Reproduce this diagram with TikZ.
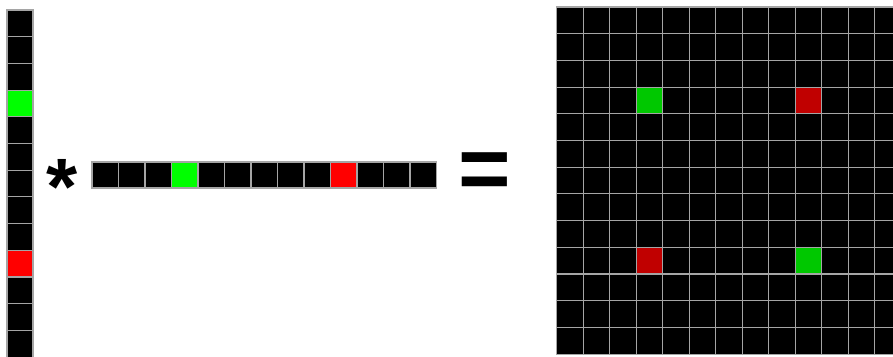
\documentclass[tikz,border=0pt]{standalone}
\usepackage{fontspec}
\setmainfont{Liberation Sans}
\usetikzlibrary{math}
\definecolor{lgreen}{RGB}{0,255,0}
\definecolor{lred}{RGB}{255,0,0}
\definecolor{dgreen}{RGB}{0,200,0}
\definecolor{dred}{RGB}{192,0,0}
\definecolor{cellline}{RGB}{165,165,165}

\begin{document}
\begin{tikzpicture}[x=1pt,y=-1pt]
\tikzmath{
\w=26.5;
\h=26.7;
}
\tikzset{cell/.style={fill=black,draw=cellline,line width=1.1pt}}

\useasboundingbox (0,0) rectangle (893,356);

% column vector
\foreach \i in {0,...,12}
  \draw[cell] (7,{10+\i*\h}) rectangle +(26,\h);
\draw[cell,fill=lgreen] (7,{10+3*\h}) rectangle +(26,\h);
\draw[cell,fill=lred] (7,{10+9*\h}) rectangle +(26,\h);

\node[anchor=base,inner sep=0pt] (times) at (62,214) {\fontsize{80}{80}\selectfont\bfseries *};

% row vector
\foreach \j in {0,...,12}
  \draw[cell] ({92+\j*\w},162) rectangle +(\w,26);
\draw[cell,fill=lgreen] ({92+3*\w},162) rectangle +(\w,26);
\draw[cell,fill=lred] ({92+9*\w},162) rectangle +(\w,26);

\node[anchor=base,inner sep=0pt] (equals) at (485,199) {\fontsize{90}{90}\selectfont\bfseries =};

% outer product
\begin{scope}
\clip (0,0) rectangle (893,356);
\foreach \i in {0,...,12}
  \foreach \j in {0,...,12}
    \draw[cell] ({556.7+\j*\w},{7+\i*\h}) rectangle +(\w,\h);
\draw[cell,fill=dgreen] ({556.7+3*\w},{7+3*\h}) rectangle +(\w,\h);
\draw[cell,fill=dred] ({556.7+9*\w},{7+3*\h}) rectangle +(\w,\h);
\draw[cell,fill=dred] ({556.7+3*\w},{7+9*\h}) rectangle +(\w,\h);
\draw[cell,fill=dgreen] ({556.7+9*\w},{7+9*\h}) rectangle +(\w,\h);
\end{scope}
\end{tikzpicture}
\end{document}
